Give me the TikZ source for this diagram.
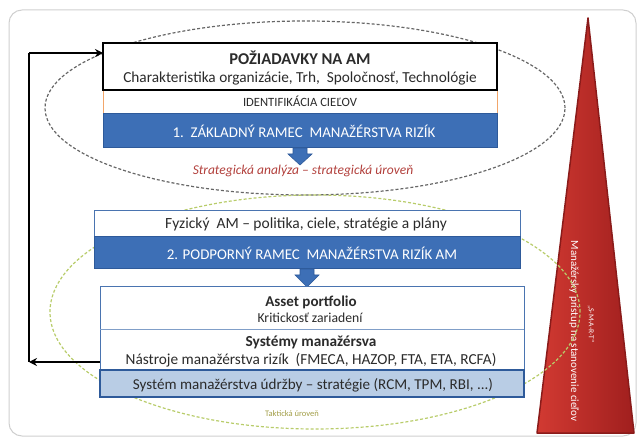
\documentclass[tikz,border=0pt]{standalone}
\usepackage{fontspec}
\setmainfont{Carlito}
\usetikzlibrary{arrows.meta,calc}
\definecolor{bandblue}{HTML}{3D6FB6}
\definecolor{bandedge}{HTML}{2E5A9A}
\definecolor{lightband}{HTML}{B9CDE5}
\definecolor{boxedge}{HTML}{4A74B0}
\definecolor{orangeline}{HTML}{F2A66A}
\definecolor{stratred}{HTML}{B2403C}
\definecolor{taktol}{HTML}{A29E48}
\definecolor{ellgray}{HTML}{666666}
\definecolor{ellgreen}{HTML}{B8CC6A}
\definecolor{trileft}{HTML}{D23A32}
\definecolor{trimid}{HTML}{C42C2A}
\definecolor{triright}{HTML}{A01F1E}
\definecolor{triedge}{HTML}{8A1B1A}
\definecolor{txt}{HTML}{2B2B2B}
\definecolor{framegray}{HTML}{CFCFCF}
\tikzset{
  rbox/.style={rectangle, inner sep=0pt, outer sep=0pt, anchor=north west},
  lbl/.style={inner sep=0pt, text=txt},
  conn/.style={line width=1.8pt, black, -{Stealth[length=8pt,width=8pt]}},
  plainconn/.style={line width=1.8pt, black},
  blockarrow/.style={fill=bandblue, draw=bandedge, line width=0.6pt},
}
\newcommand{\fs}[1]{\fontsize{#1}{#1}\selectfont}
\begin{document}
\begin{tikzpicture}[x=1pt,y=-1pt]
\useasboundingbox (0,0) rectangle (643,438);
% frame
\draw[framegray, line width=1pt, rounded corners=13pt] (9,10) rectangle (636,436);
% strategic ellipse
\draw[ellgray, line width=1.2pt, dash pattern=on 3pt off 2pt] (305,108) ellipse [x radius=260pt, y radius=87pt];
% triangle
\shade[left color=trileft, middle color=trimid, right color=triright] (588,18) -- (634,433) -- (537,433) -- cycle;
\draw[triedge, line width=1.5pt, line join=round] (588,18) -- (634,433) -- (537,433) -- cycle;
\node[rotate=-90, text=white, inner sep=0pt, font=\fs{11}] (tri1) at (574,331) {Manažérsky prístup na stanovenie cieľov};
\node[rotate=-90, text=white, inner sep=0pt, font=\fs{7.5}] (tri2) at (591,324) {„S-M-A-R-T“};
% tactical ellipse
\draw[ellgreen, line width=1.2pt, dash pattern=on 3pt off 2pt] (315,312) ellipse [x radius=265pt, y radius=117pt];

% top group
\node[rbox, fill=white, draw=orangeline, line width=1pt, minimum width=394pt, minimum height=24pt] (b1o) at (103,90) {};
\node[rbox, fill=white, draw=black, line width=1.8pt, minimum width=394pt, minimum height=47pt] (b1) at (103,43) {};
\node[rbox, fill=bandblue, draw=bandedge, line width=1pt, minimum width=394pt, minimum height=34pt] (b1b) at (103,114) {};
\node[lbl, font=\bfseries\fs{16.5}] (t1) at (300,58) {POŽIADAVKY NA AM};
\node[lbl, font=\fs{15.3}] (t2) at (300,78) {Charakteristika organizácie, Trh,\ \ Spoločnosť, Technológie};
\node[lbl, font=\fs{12.6}] (t3) at (300,101) {IDENTIFIKÁCIA CIEĽOV};
\node[lbl, text=white, font=\fs{14.9}] (t4) at (304,131) {1.\ \ ZÁKLADNÝ RAMEC\ \ MANAŽÉRSTVA RIZÍK};
\path[blockarrow] (293,148) -- (307,148) -- (307,154) -- (312,154) -- (300,165) -- (288,154) -- (293,154) -- cycle;
\node[lbl, text=stratred, font=\itshape\fs{13.5}] (t5) at (303,171) {Strategická analýza – strategická úroveň};

% middle group
\node[rbox, fill=white, draw=boxedge, line width=1pt, minimum width=426pt, minimum height=26pt] (b2) at (94,211) {};
\node[rbox, fill=bandblue, draw=bandedge, line width=1pt, minimum width=426pt, minimum height=32pt] (b2b) at (94,237) {};
\node[lbl, font=\fs{15.5}] (t6) at (306,224) {Fyzický\ \ AM – politika, ciele, stratégie a plány};
\node[lbl, text=white, font=\fs{14.9}] (t7) at (312,253) {2. PODPORNÝ RAMEC\ \ MANAŽÉRSTVA RIZÍK AM};
\path[blockarrow] (300,269) -- (314,269) -- (314,275) -- (319,275) -- (307,287) -- (295,275) -- (300,275) -- cycle;

% bottom group
\node[rbox, fill=white, draw=boxedge, line width=1pt, minimum width=424pt, minimum height=83pt] (b3) at (100,287) {};
\draw[boxedge!70, line width=0.6pt] (b3.west |- 0,329) -- (b3.east |- 0,329);
\node[rbox, fill=lightband, draw=bandedge, line width=1.2pt, minimum width=424pt, minimum height=27pt] (b3b) at (100,370) {};
\node[lbl, font=\bfseries\fs{15}] (t8) at (311,302) {Asset portfolio};
\node[lbl, font=\fs{13.7}] (t9) at (310,318) {Kritickosť zariadení};
\node[lbl, font=\bfseries\fs{15.3}] (t10) at (311,342) {Systémy manažérsva};
\node[lbl, font=\fs{15.3}] (t11) at (311,360) {Nástroje manažérstva rizík\ \ (FMECA, HAZOP, FTA, ETA, RCFA)};
\node[lbl, font=\fs{15.1}] (t12) at (313,385) {Systém manažérstva údržby – stratégie (RCM, TPM, RBI, ...)};
\node[lbl, text=taktol, font=\fs{8.5}] (t13) at (292,414) {Taktická úroveň};

% feedback connector
\coordinate (cl) at (29,362);
\coordinate (ct) at (29,53);
\draw[conn] (cl -| b3.west) -- (cl);
\draw[plainconn] (cl) -- (ct);
\draw[conn] (ct) -- (ct -| b1.west);
\end{tikzpicture}
\end{document}
